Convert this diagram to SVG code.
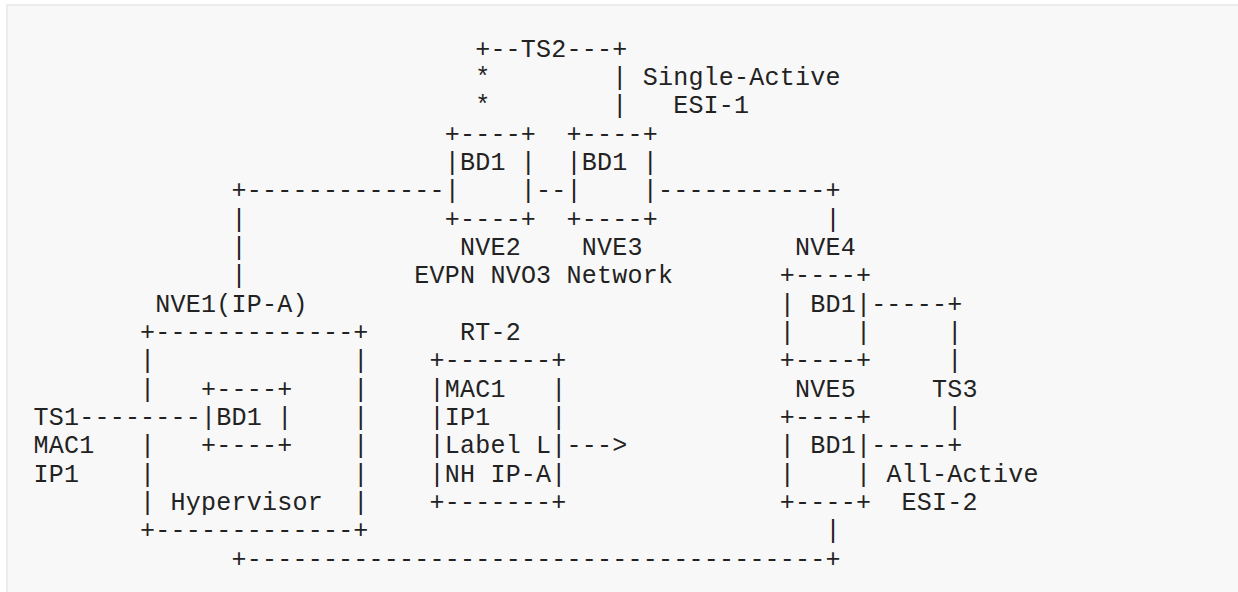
<svg xmlns="http://www.w3.org/2000/svg" width="1238" height="592" viewBox="0 0 1238 592">
<style>
text{font-family:"Liberation Mono","DejaVu Sans Mono",monospace;font-size:25px;letter-spacing:0.23px;fill:#222222;white-space:pre}
</style>
<rect x="0" y="0" width="1238" height="592" fill="#ffffff"/>
<rect x="7" y="5" width="1240" height="600" fill="#f8f8f8" stroke="#ececec" stroke-width="2"/>
<g id="connectors" xml:space="preserve">
<text x="475.17" y="85.03">*</text>
<text x="612.24" y="85.03">|</text>
<text x="475.17" y="113.36">*</text>
<text x="612.24" y="113.36">|</text>
<text x="231.49" y="198.35">+-------------</text>
<text x="536.09" y="198.35">--</text>
<text x="657.93" y="198.35">-----------+</text>
<text x="231.49" y="226.68">|</text>
<text x="825.46" y="226.68">|</text>
<text x="231.49" y="255.01">|</text>
<text x="231.49" y="283.34">|</text>
<text x="871.15" y="311.67">-----+</text>
<text x="947.30" y="340.0">|</text>
<text x="947.30" y="368.33">|</text>
<text x="947.30" y="424.99">|</text>
<text x="79.19" y="424.99">--------</text>
<text x="871.15" y="453.32">-----+</text>
<text x="566.55" y="453.32">---&gt;</text>
<text x="825.46" y="538.31">|</text>
<text x="231.49" y="566.64">+--------------------------------------+</text>
</g>
<g id="ts2">
<text x="475.17" y="56.7">+--TS2---+</text>
</g>
<g id="esi1">
<text x="642.70" y="85.03">Single-Active</text>
<text x="673.16" y="113.36">ESI-1</text>
</g>
<g id="nve2" xml:space="preserve">
<text x="444.71" y="141.69">+----+</text>
<text x="444.71" y="170.02">|BD1 |</text>
<text x="444.71" y="198.35">|    |</text>
<text x="444.71" y="226.68">+----+</text>
<text x="459.94" y="255.01">NVE2</text>
</g>
<g id="nve3" xml:space="preserve">
<text x="566.55" y="141.69">+----+</text>
<text x="566.55" y="170.02">|BD1 |</text>
<text x="566.55" y="198.35">|    |</text>
<text x="566.55" y="226.68">+----+</text>
<text x="581.78" y="255.01">NVE3</text>
</g>
<g id="network-label">
<text x="414.25" y="283.34">EVPN NVO3 Network</text>
</g>
<g id="nve1" xml:space="preserve">
<text x="155.34" y="311.67">NVE1(IP-A)</text>
<text x="140.11" y="340.0">+-------------+</text>
<text x="140.11" y="368.33">|             |</text>
<text x="140.11" y="396.66">|</text>
<text x="353.33" y="396.66">|</text>
<text x="353.33" y="424.99">|</text>
<text x="140.11" y="453.32">|</text>
<text x="353.33" y="453.32">|</text>
<text x="140.11" y="481.65">|             |</text>
<text x="140.11" y="509.98">| Hypervisor  |</text>
<text x="140.11" y="538.31">+-------------+</text>
</g>
<g id="bd1-nve1" xml:space="preserve">
<text x="201.03" y="396.66">+----+</text>
<text x="201.03" y="424.99">|BD1 |</text>
<text x="201.03" y="453.32">+----+</text>
</g>
<g id="ts1">
<text x="33.5" y="424.99">TS1</text>
<text x="33.5" y="453.32">MAC1</text>
<text x="33.5" y="481.65">IP1</text>
</g>
<g id="rt2" xml:space="preserve">
<text x="459.94" y="340.0">RT-2</text>
<text x="429.48" y="368.33">+-------+</text>
<text x="429.48" y="396.66">|MAC1   |</text>
<text x="429.48" y="424.99">|IP1    |</text>
<text x="429.48" y="453.32">|Label L|</text>
<text x="429.48" y="481.65">|NH IP-A|</text>
<text x="429.48" y="509.98">+-------+</text>
</g>
<g id="nve4" xml:space="preserve">
<text x="795.00" y="255.01">NVE4</text>
<text x="779.77" y="283.34">+----+</text>
<text x="779.77" y="311.67">| BD1|</text>
<text x="779.77" y="340.0">|    |</text>
<text x="779.77" y="368.33">+----+</text>
</g>
<g id="nve5" xml:space="preserve">
<text x="795.00" y="396.66">NVE5</text>
<text x="779.77" y="424.99">+----+</text>
<text x="779.77" y="453.32">| BD1|</text>
<text x="779.77" y="481.65">|    |</text>
<text x="779.77" y="509.98">+----+</text>
</g>
<g id="ts3">
<text x="932.07" y="396.66">TS3</text>
</g>
<g id="esi2">
<text x="886.38" y="481.65">All-Active</text>
<text x="901.61" y="509.98">ESI-2</text>
</g>
</svg>
